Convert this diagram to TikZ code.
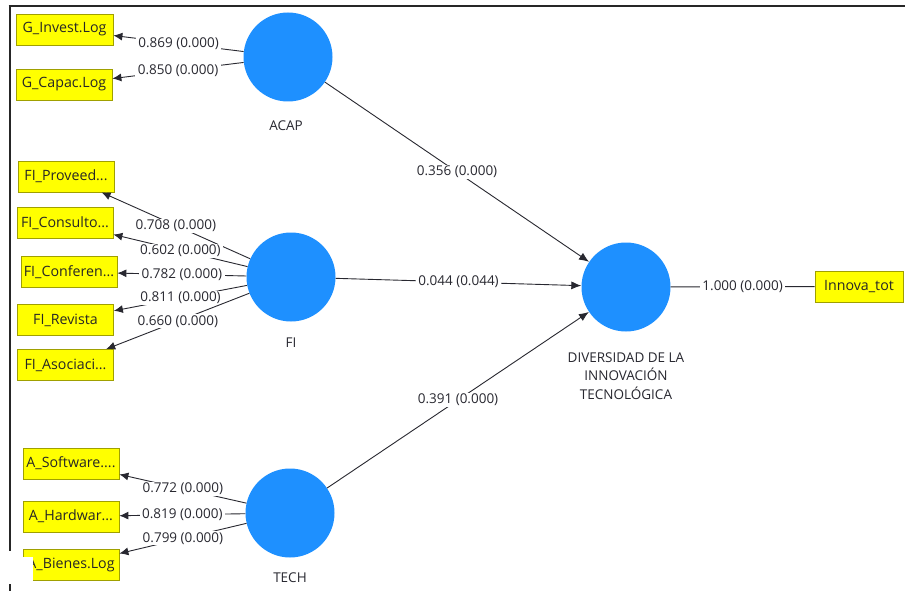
\documentclass[tikz,border=0pt]{standalone}
\usepackage{fontspec}
\setmainfont{Open Sans}
\usetikzlibrary{arrows.meta}
\definecolor{lvblue}{RGB}{30,144,255}
\definecolor{indfill}{RGB}{255,255,0}
\definecolor{indedge}{RGB}{160,160,0}
\definecolor{ink}{RGB}{40,40,48}
\begin{document}
\begin{tikzpicture}[x=1pt,y=-1pt,
  latent/.style={circle, fill=lvblue, minimum size=89pt, inner sep=0pt},
  lvname/.style={text=ink, font=\fontsize{13.5}{18.5}\selectfont, align=center, inner sep=0pt},
  indicator/.style={draw=indedge, line width=0.8pt, fill=indfill, minimum width=96pt,
    minimum height=31pt, inner sep=0pt, text=black!85, font=\fontsize{14.2}{16}\selectfont},
  coef/.style={fill=white, inner xsep=2.5pt, inner ysep=1pt, text=ink,
    font=\fontsize{13.5}{16}\selectfont},
  loading/.style={draw=ink, line width=0.9pt, -{Latex[length=9pt,width=8pt]}},
  regress/.style={draw=ink, line width=0.9pt, -{Latex[length=10pt,width=8pt]}},
  link/.style={draw=ink, line width=0.9pt},
]
\useasboundingbox (0,0) rectangle (905,591);
\fill[white] (0,0) rectangle (905,591);

% frame
\draw[line width=2pt, black!85] (8.5,6) -- (905,6);
\draw[line width=2pt, black!85] (9.5,6) -- (9.5,551);
\draw[line width=2pt, black!85] (9.5,584) -- (9.5,591);

% latent variables
\node[latent] (acap) at (288,57) {};
\node[latent] (fi) at (291,277) {};
\node[latent] (tech) at (290,513) {};
\node[latent] (div) at (626,287) {};
\node[lvname] (acapname) at (286,126) {ACAP};
\node[lvname] (finame) at (291,343) {FI};
\node[lvname] (techname) at (290,578) {TECH};
\node[lvname] (divname) at (626,376) {DIVERSIDAD DE LA\\INNOVACIÓN\\TECNOLÓGICA};

% indicators
\node[indicator, minimum width=97pt] (ginv) at (64.5,29.5) {G\_Invest.Log};
\node[indicator] (gcap) at (64,84.5) {G\_Capac.Log};
\node[indicator] (fiprov) at (66,176.5) {FI\_Proveed...};
\node[indicator] (ficons) at (65,223) {FI\_Consulto...};
\node[indicator] (ficonf) at (69,272) {FI\_Conferen...};
\node[indicator] (firev) at (65.5,320) {FI\_Revista};
\node[indicator] (fiasoc) at (65.5,365) {FI\_Asociaci...};
\node[indicator] (asoft) at (71,463.5) {A\_Software....};
\node[indicator] (ahard) at (71,516.5) {A\_Hardwar...};
\node[indicator] (abien) at (71,565) {A\_Bienes.Log};
\node[indicator, minimum width=88pt] (innova) at (859,286.5) {Innova\_tot};

% outer loadings
\draw[loading] (acap) -- node[coef] {0.869 (0.000)} (ginv);
\draw[loading] (acap) -- node[coef] {0.850 (0.000)} (gcap);
\draw[loading] (fi) -- node[coef] {0.708 (0.000)} (fiprov);
\draw[loading] (fi) -- node[coef] {0.602 (0.000)} (ficons);
\draw[loading] (fi) -- node[coef] {0.782 (0.000)} (ficonf);
\draw[loading] (fi) -- node[coef] {0.811 (0.000)} (firev);
\draw[loading] (fi) -- node[coef] {0.660 (0.000)} (fiasoc);
\draw[loading] (tech) -- node[coef] {0.772 (0.000)} (asoft);
\draw[loading] (tech) -- node[coef] {0.819 (0.000)} (ahard);
\draw[loading] (tech) -- node[coef] {0.799 (0.000)} (abien);
\draw[link] (div) -- node[coef] {1.000 (0.000)} (innova);

% structural paths
\draw[regress] (acap) -- node[coef] {0.356 (0.000)} (div);
\draw[regress] (fi) -- node[coef] {0.044 (0.044)} (div);
\draw[regress] (tech) -- node[coef] {0.391 (0.000)} (div);

% blank patch at the lower left
\fill[white] (0,557) rectangle (33,583);
\end{tikzpicture}
\end{document}
